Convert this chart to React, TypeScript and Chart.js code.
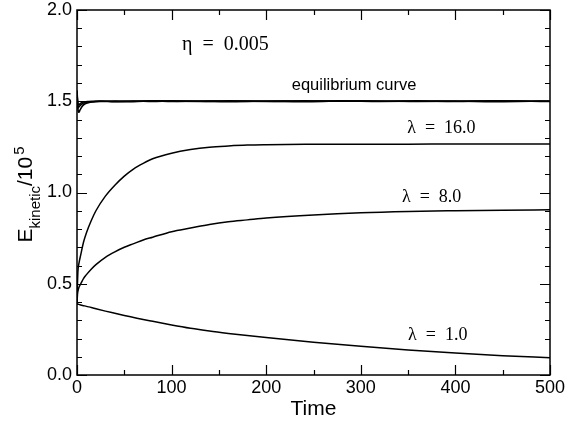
import React, { useEffect, useRef } from "react";
import { Chart, registerables } from "chart.js";

Chart.register(...registerables);

// ---- data ----
const xTickValues = [0, 100, 200, 300, 400, 500];
const yTickValues = [0, 0.5, 1.0, 1.5, 2.0];

const timeCurve = [0, 0.5, 1, 2, 4, 7, 10, 15, 20, 30, 40, 50, 60, 70, 80, 100, 120, 140, 160, 180, 200, 250, 300, 350, 400, 450, 500];
const lambda16 = [0.39, 0.5, 0.57, 0.61, 0.66, 0.73, 0.78, 0.845, 0.9, 0.98, 1.04, 1.09, 1.13, 1.16, 1.185, 1.215, 1.235, 1.248, 1.255, 1.26, 1.262, 1.264, 1.265, 1.265, 1.266, 1.266, 1.266];
const lambda8 = [0.39, 0.44, 0.46, 0.48, 0.5, 0.53, 0.55, 0.58, 0.605, 0.645, 0.675, 0.7, 0.72, 0.74, 0.755, 0.785, 0.805, 0.825, 0.84, 0.85, 0.86, 0.877, 0.889, 0.896, 0.9, 0.903, 0.905];
const lambda1 = [0.39, 0.389, 0.388, 0.387, 0.384, 0.38, 0.376, 0.37, 0.363, 0.35, 0.338, 0.326, 0.315, 0.304, 0.294, 0.274, 0.256, 0.241, 0.228, 0.216, 0.205, 0.18, 0.157, 0.137, 0.12, 0.106, 0.095];

const timeEq = [0, 0.3, 0.7, 1, 1.5, 2, 3, 4, 6, 8, 12, 16, 25, 40, 60, 80, 100, 130, 160, 200, 240, 280, 320, 360, 400, 440, 480, 500];
const eqA = [1.56, 1.53, 1.49, 1.46, 1.44, 1.44, 1.45, 1.46, 1.475, 1.485, 1.492, 1.496, 1.499, 1.501, 1.498, 1.502, 1.5, 1.499, 1.502, 1.5, 1.498, 1.501, 1.5, 1.502, 1.499, 1.501, 1.5, 1.5];
const eqB = [1.55, 1.52, 1.49, 1.47, 1.465, 1.47, 1.475, 1.48, 1.488, 1.492, 1.496, 1.497, 1.5, 1.498, 1.501, 1.499, 1.502, 1.5, 1.498, 1.501, 1.5, 1.502, 1.499, 1.5, 1.501, 1.498, 1.5, 1.501];
const eqC = [1.54, 1.51, 1.495, 1.485, 1.48, 1.482, 1.486, 1.49, 1.494, 1.497, 1.499, 1.5, 1.501, 1.499, 1.5, 1.502, 1.499, 1.501, 1.5, 1.499, 1.502, 1.5, 1.501, 1.499, 1.5, 1.502, 1.5, 1.499];

const etaText = "η\u2002=\u20020.005";
const eqText = "equilibrium curve";
const lambdaTexts = ["λ\u2002=\u200216.0", "λ\u2002=\u20028.0", "λ\u2002=\u20021.0"];
const xTitle = "Time";

const SANS = '"Liberation Sans", Arial, sans-serif';
const SERIF = '"Liberation Serif", "Times New Roman", serif';

function toXY(xs: number[], ys: number[]) {
  return xs.map((x, i) => ({ x, y: ys[i] }));
}

const framePlugin = {
  id: "framePlugin",
  beforeDraw(chart: any) {
    const ctx = chart.ctx;
    ctx.save();
    ctx.fillStyle = "#fff";
    ctx.fillRect(0, 0, chart.width, chart.height);
    ctx.restore();
  },
  afterDraw(chart: any) {
    const { ctx, chartArea: a, scales } = chart;
    const xs = scales.x;
    const ys = scales.y;
    ctx.save();
    ctx.strokeStyle = "#000";
    ctx.fillStyle = "#000";
    ctx.lineWidth = 1.5;
    ctx.strokeRect(a.left, a.top, a.right - a.left, a.bottom - a.top);
    ctx.lineWidth = 1.2;
    ctx.beginPath();
    for (let v = 0; v <= 500; v += 50) {
      const px = Math.round(xs.getPixelForValue(v)) + 0.5;
      const len = v % 100 === 0 ? 10 : 5;
      ctx.moveTo(px, a.bottom);
      ctx.lineTo(px, a.bottom - len);
      ctx.moveTo(px, a.top);
      ctx.lineTo(px, a.top + len);
    }
    for (let i = 0; i <= 20; i++) {
      const py = Math.round(ys.getPixelForValue(i / 10)) + 0.5;
      const len = i % 5 === 0 ? 10 : 5;
      ctx.moveTo(a.left, py);
      ctx.lineTo(a.left + len, py);
      ctx.moveTo(a.right, py);
      ctx.lineTo(a.right - len, py);
    }
    ctx.stroke();

    // annotations (anchored in data coordinates)
    const at = (t: number, v: number) => [xs.getPixelForValue(t), ys.getPixelForValue(v)];
    ctx.textAlign = "left";
    ctx.textBaseline = "alphabetic";
    let p = at(111, 1.78);
    ctx.font = `20px ${SERIF}`;
    ctx.fillText(etaText, p[0], p[1]);
    p = at(227, 1.562);
    ctx.font = `16.5px ${SANS}`;
    ctx.fillText(eqText, p[0], p[1]);
    ctx.font = `18px ${SERIF}`;
    p = at(349, 1.326);
    ctx.fillText(lambdaTexts[0], p[0], p[1]);
    p = at(343.5, 0.948);
    ctx.fillText(lambdaTexts[1], p[0], p[1]);
    p = at(350, 0.192);
    ctx.fillText(lambdaTexts[2], p[0], p[1]);

    // x title
    ctx.textAlign = "center";
    ctx.font = `21px ${SANS}`;
    ctx.fillText(xTitle, (a.left + a.right) / 2, a.bottom + 40);

    // y title with subscript / superscript
    const cy = (a.top + a.bottom) / 2;
    ctx.translate(a.left - 45, cy);
    ctx.rotate(-Math.PI / 2);
    ctx.textAlign = "left";
    const big = `21px ${SANS}`;
    const small = `15px ${SANS}`;
    ctx.font = big;
    const wE = ctx.measureText("E").width;
    const wS = ctx.measureText("/10").width;
    ctx.font = small;
    const wK = ctx.measureText("kinetic").width;
    const w5 = ctx.measureText("5").width;
    const gap = 2;
    let q = -(wE + wK + wS + w5 + gap) / 2 - 2;
    ctx.font = big;
    ctx.fillText("E", q, 0);
    q += wE;
    ctx.font = small;
    ctx.fillText("kinetic", q, 8);
    q += wK;
    ctx.font = big;
    ctx.fillText("/10", q, 0);
    q += wS + gap;
    ctx.font = small;
    ctx.fillText("5", q, -8);
    ctx.restore();
  },
};

export default function App() {
  const ref = useRef<HTMLCanvasElement | null>(null);
  useEffect(() => {
    if (!ref.current) return;
    const lineDs = (data: any[], width = 1.5) => ({
      data,
      borderColor: "#000",
      borderWidth: width,
      pointRadius: 0,
      fill: false,
      cubicInterpolationMode: "monotone" as const,
    });
    const chart = new Chart(ref.current, {
      type: "line",
      data: {
        datasets: [
          lineDs(toXY(timeEq, eqA), 1.6),
          lineDs(toXY(timeEq, eqB), 1.6),
          lineDs(toXY(timeEq, eqC), 1.6),
          lineDs(toXY(timeCurve, lambda16)),
          lineDs(toXY(timeCurve, lambda8)),
          lineDs(toXY(timeCurve, lambda1)),
        ],
      },
      options: {
        animation: false,
        responsive: false,
        devicePixelRatio: 1,
        layout: { padding: { left: 0, top: 10, right: 16, bottom: 0 } },
        plugins: { legend: { display: false }, tooltip: { enabled: false } },
        scales: {
          x: {
            type: "linear",
            min: 0,
            max: 500,
            afterBuildTicks: (s: any) => {
              s.ticks = xTickValues.map((value) => ({ value }));
            },
            ticks: {
              color: "#000",
              font: { family: SANS, size: 18 },
              padding: 2,
              maxRotation: 0,
              callback: (v: any) => String(v),
            },
            grid: { display: false, drawTicks: false },
            border: { display: false },
            afterFit: (s: any) => {
              s.height = 46;
              s.paddingLeft = 0;
              s.paddingRight = 0;
            },
          },
          y: {
            type: "linear",
            min: 0,
            max: 2,
            afterBuildTicks: (s: any) => {
              s.ticks = yTickValues.map((value) => ({ value }));
            },
            ticks: {
              color: "#000",
              font: { family: SANS, size: 18 },
              padding: 5,
              callback: (v: any) => Number(v).toFixed(1),
            },
            grid: { display: false, drawTicks: false },
            border: { display: false },
            afterFit: (s: any) => {
              s.width = 77;
              s.paddingTop = 0;
              s.paddingBottom = 0;
            },
          },
        },
      },
      plugins: [framePlugin],
    });
    return () => chart.destroy();
  }, []);
  return (
    <div style={{ position: "fixed", left: 0, top: 0, width: 566, height: 421 }}>
      <canvas ref={ref} width={566} height={421} style={{ display: "block", width: 566, height: 421 }} />
    </div>
  );
}
